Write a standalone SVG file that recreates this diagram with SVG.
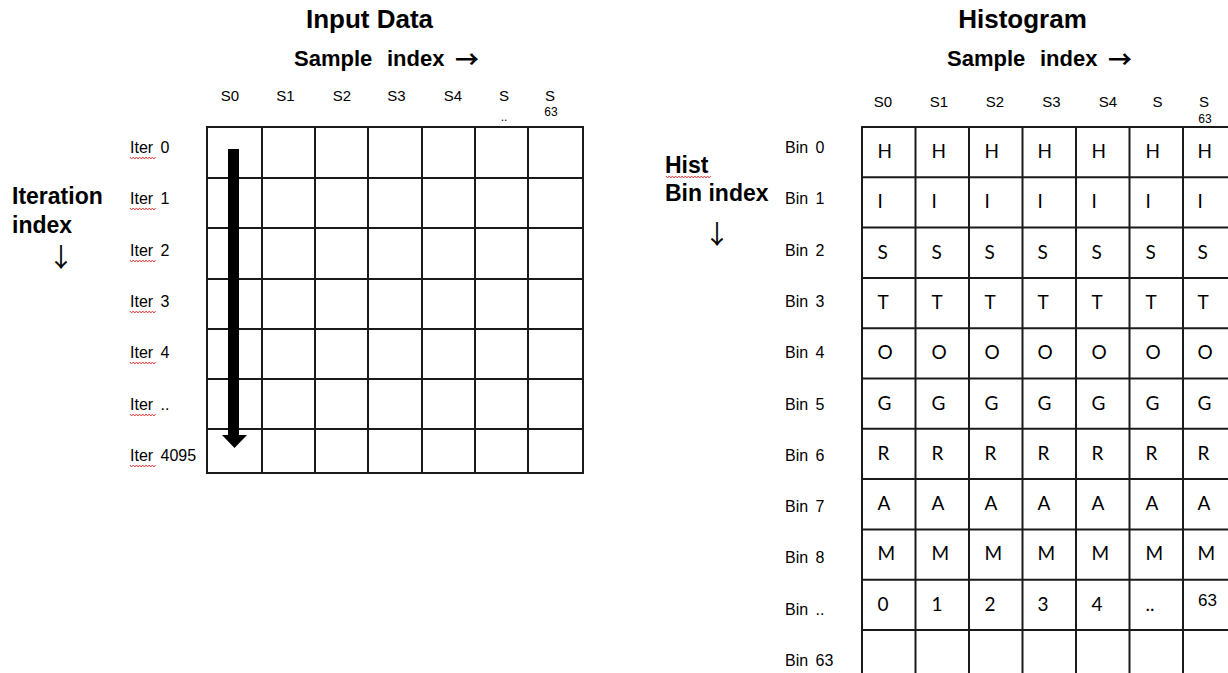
<svg xmlns="http://www.w3.org/2000/svg" xmlns:xlink="http://www.w3.org/1999/xlink" width="1228" height="673" viewBox="0 0 1228 673">
<style>
.grid line{stroke:#1a1a1a;stroke-width:2}
text{fill:#000;font-family:"Liberation Sans",Arial,sans-serif}
.title{font-size:26px;font-weight:bold;text-anchor:middle}
.sub{font-size:22px;font-weight:bold}
.ra{font-family:"Noto Sans CJK SC",sans-serif;font-size:24px;font-weight:bold}
.hdr{font-size:15px;text-anchor:middle}
.tiny{font-size:12px;text-anchor:middle}
.lbl{font-size:16px;word-spacing:3px}
.axis{font-size:23px;font-weight:bold}
.arr{font-family:"Noto Sans CJK SC",sans-serif;font-size:26px;text-anchor:middle}
.cell{font-family:Lato,"Open Sans",sans-serif;font-size:19px}
.sq{fill:none;stroke:#e04040;stroke-width:1}
</style>
<defs>
<path id="sq26" class="sq" d="M0,0 l1.6,2 l1.6,-2 l1.6,2 l1.6,-2 l1.6,2 l1.6,-2 l1.6,2 l1.6,-2 l1.6,2 l1.6,-2 l1.6,2 l1.6,-2 l1.6,2 l1.6,-2 l1.6,2 l1.6,-2"/>
<path id="sq44" class="sq" d="M0,0 l1.6,2 l1.6,-2 l1.6,2 l1.6,-2 l1.6,2 l1.6,-2 l1.6,2 l1.6,-2 l1.6,2 l1.6,-2 l1.6,2 l1.6,-2 l1.6,2 l1.6,-2 l1.6,2 l1.6,-2 l1.6,2 l1.6,-2 l1.6,2 l1.6,-2 l1.6,2 l1.6,-2 l1.6,2 l1.6,-2 l1.6,2 l1.6,-2 l1.6,2 l1.6,-2"/>
</defs>
<rect width="1228" height="673" fill="#fff"/>

<g id="input-data">
  <text class="title" x="369.5" y="28">Input Data</text>
  <text class="sub" y="66"><tspan x="294">Sample</tspan><tspan x="387">index</tspan><tspan class="ra" x="455" y="68">→</tspan></text>
  <g id="input-headers">
    <text class="hdr" x="230" y="101">S0</text>
    <text class="hdr" x="285.5" y="101">S1</text>
    <text class="hdr" x="342" y="101">S2</text>
    <text class="hdr" x="396.5" y="101">S3</text>
    <text class="hdr" x="453" y="101">S4</text>
    <text class="hdr" x="504" y="101">S</text>
    <text class="tiny" x="504" y="121">..</text>
    <text class="hdr" x="550" y="101">S</text>
    <text class="tiny" x="551" y="116">63</text>
  </g>
  <g id="iteration-axis">
    <text class="axis" x="12" y="204">Iteration</text>
    <text class="axis" x="12" y="233">index</text>
    <text class="arr" x="61" y="267">↓</text>
  </g>
  <g id="iter-labels">
    <text class="lbl" x="130" y="153">Iter 0</text>
    <text class="lbl" x="130" y="204">Iter 1</text>
    <text class="lbl" x="130" y="256">Iter 2</text>
    <text class="lbl" x="130" y="307">Iter 3</text>
    <text class="lbl" x="130" y="358">Iter 4</text>
    <text class="lbl" x="130" y="410">Iter ..</text>
    <text class="lbl" x="130" y="461">Iter 4095</text>
    <use xlink:href="#sq26" x="130" y="157"/>
    <use xlink:href="#sq26" x="130" y="208"/>
    <use xlink:href="#sq26" x="130" y="260"/>
    <use xlink:href="#sq26" x="130" y="311"/>
    <use xlink:href="#sq26" x="130" y="362"/>
    <use xlink:href="#sq26" x="130" y="414"/>
    <use xlink:href="#sq26" x="130" y="465"/>
  </g>
  <g id="input-grid" class="grid">
    <line x1="207" y1="127" x2="583" y2="127"/>
    <line x1="207" y1="178" x2="583" y2="178"/>
    <line x1="207" y1="228" x2="583" y2="228"/>
    <line x1="207" y1="279" x2="583" y2="279"/>
    <line x1="207" y1="329" x2="583" y2="329"/>
    <line x1="207" y1="379" x2="583" y2="379"/>
    <line x1="207" y1="429" x2="583" y2="429"/>
    <line x1="207" y1="473" x2="583" y2="473"/>
    <line x1="207" y1="126" x2="207" y2="474"/>
    <line x1="262" y1="126" x2="262" y2="474"/>
    <line x1="315" y1="126" x2="315" y2="474"/>
    <line x1="368" y1="126" x2="368" y2="474"/>
    <line x1="422" y1="126" x2="422" y2="474"/>
    <line x1="475" y1="126" x2="475" y2="474"/>
    <line x1="528" y1="126" x2="528" y2="474"/>
    <line x1="583" y1="126" x2="583" y2="474"/>
  </g>
</g>

<g id="connectors">
  <path d="M228,149 H239 V435 H247 L234.5,448 L222,435 H228 Z" fill="#000"/>
</g>

<g id="histogram">
  <text class="title" x="1022.5" y="28">Histogram</text>
  <text class="sub" y="66"><tspan x="947">Sample</tspan><tspan x="1040">index</tspan><tspan class="ra" x="1108" y="68">→</tspan></text>
  <g id="hist-headers">
    <text class="hdr" x="883" y="107">S0</text>
    <text class="hdr" x="939" y="107">S1</text>
    <text class="hdr" x="995" y="107">S2</text>
    <text class="hdr" x="1051.5" y="107">S3</text>
    <text class="hdr" x="1108" y="107">S4</text>
    <text class="hdr" x="1157.5" y="107">S</text>
    <text class="tiny" x="1157" y="128">..</text>
    <text class="hdr" x="1204" y="107">S</text>
    <text class="tiny" x="1205" y="123">63</text>
  </g>
  <g id="bin-axis">
    <text class="axis" x="665" y="173">Hist</text>
    <use xlink:href="#sq44" x="666" y="176"/>
    <text class="axis" x="665" y="201">Bin index</text>
    <text class="arr" x="717" y="244">↓</text>
  </g>
  <g id="bin-labels">
    <text class="lbl" x="785" y="153">Bin 0</text>
    <text class="lbl" x="785" y="204.3">Bin 1</text>
    <text class="lbl" x="785" y="255.6">Bin 2</text>
    <text class="lbl" x="785" y="306.9">Bin 3</text>
    <text class="lbl" x="785" y="358.2">Bin 4</text>
    <text class="lbl" x="785" y="409.5">Bin 5</text>
    <text class="lbl" x="785" y="460.8">Bin 6</text>
    <text class="lbl" x="785" y="512.1">Bin 7</text>
    <text class="lbl" x="785" y="563.4">Bin 8</text>
    <text class="lbl" x="785" y="614.7">Bin ..</text>
    <text class="lbl" x="785" y="666">Bin 63</text>
  </g>
  <g id="hist-cells" class="cell">
    <text class="cell" y="158"><tspan x="877.5">H</tspan><tspan x="931.5">H</tspan><tspan x="984.5">H</tspan><tspan x="1037.5">H</tspan><tspan x="1091.5">H</tspan><tspan x="1145.5">H</tspan><tspan x="1197.5">H</tspan></text>
    <text class="cell" y="208.3"><tspan x="877.5">I</tspan><tspan x="931.5">I</tspan><tspan x="984.5">I</tspan><tspan x="1037.5">I</tspan><tspan x="1091.5">I</tspan><tspan x="1145.5">I</tspan><tspan x="1197.5">I</tspan></text>
    <text class="cell" y="258.6"><tspan x="877.5">S</tspan><tspan x="931.5">S</tspan><tspan x="984.5">S</tspan><tspan x="1037.5">S</tspan><tspan x="1091.5">S</tspan><tspan x="1145.5">S</tspan><tspan x="1197.5">S</tspan></text>
    <text class="cell" y="309"><tspan x="877.5">T</tspan><tspan x="931.5">T</tspan><tspan x="984.5">T</tspan><tspan x="1037.5">T</tspan><tspan x="1091.5">T</tspan><tspan x="1145.5">T</tspan><tspan x="1197.5">T</tspan></text>
    <text class="cell" y="359.2"><tspan x="877.5">O</tspan><tspan x="931.5">O</tspan><tspan x="984.5">O</tspan><tspan x="1037.5">O</tspan><tspan x="1091.5">O</tspan><tspan x="1145.5">O</tspan><tspan x="1197.5">O</tspan></text>
    <text class="cell" y="409.5"><tspan x="877.5">G</tspan><tspan x="931.5">G</tspan><tspan x="984.5">G</tspan><tspan x="1037.5">G</tspan><tspan x="1091.5">G</tspan><tspan x="1145.5">G</tspan><tspan x="1197.5">G</tspan></text>
    <text class="cell" y="459.8"><tspan x="877.5">R</tspan><tspan x="931.5">R</tspan><tspan x="984.5">R</tspan><tspan x="1037.5">R</tspan><tspan x="1091.5">R</tspan><tspan x="1145.5">R</tspan><tspan x="1197.5">R</tspan></text>
    <text class="cell" y="510.1"><tspan x="877.5">A</tspan><tspan x="931.5">A</tspan><tspan x="984.5">A</tspan><tspan x="1037.5">A</tspan><tspan x="1091.5">A</tspan><tspan x="1145.5">A</tspan><tspan x="1197.5">A</tspan></text>
    <text class="cell" y="560.4"><tspan x="877.5">M</tspan><tspan x="931.5">M</tspan><tspan x="984.5">M</tspan><tspan x="1037.5">M</tspan><tspan x="1091.5">M</tspan><tspan x="1145.5">M</tspan><tspan x="1197.5">M</tspan></text>
    <text class="cell" y="610.7"><tspan x="877.5">0</tspan><tspan x="931.5">1</tspan><tspan x="984.5">2</tspan><tspan x="1037.5">3</tspan><tspan x="1091.5">4</tspan><tspan x="1145.5">..</tspan></text>
    <text x="1198" y="606" font-size="17">63</text>
  </g>
  <g id="hist-grid" class="grid">
    <line x1="862" y1="127" x2="1228" y2="127"/>
    <line x1="862" y1="177.3" x2="1228" y2="177.3"/>
    <line x1="862" y1="227.6" x2="1228" y2="227.6"/>
    <line x1="862" y1="277.9" x2="1228" y2="277.9"/>
    <line x1="862" y1="328.2" x2="1228" y2="328.2"/>
    <line x1="862" y1="378.5" x2="1228" y2="378.5"/>
    <line x1="862" y1="428.8" x2="1228" y2="428.8"/>
    <line x1="862" y1="479.1" x2="1228" y2="479.1"/>
    <line x1="862" y1="529.4" x2="1228" y2="529.4"/>
    <line x1="862" y1="579.7" x2="1228" y2="579.7"/>
    <line x1="862" y1="630" x2="1228" y2="630"/>
    <line x1="862" y1="126" x2="862" y2="673"/>
    <line x1="915.5" y1="126" x2="915.5" y2="673"/>
    <line x1="969" y1="126" x2="969" y2="673"/>
    <line x1="1022.5" y1="126" x2="1022.5" y2="673"/>
    <line x1="1076" y1="126" x2="1076" y2="673"/>
    <line x1="1129.5" y1="126" x2="1129.5" y2="673"/>
    <line x1="1183" y1="126" x2="1183" y2="673"/>
  </g>
</g>
</svg>
